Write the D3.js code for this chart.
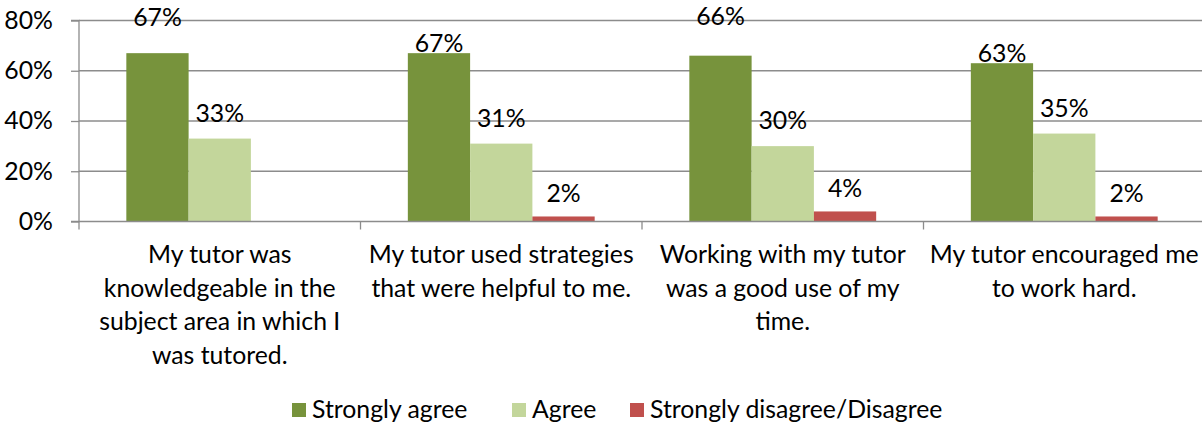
<!DOCTYPE html>
<html>
<head>
<meta charset="utf-8">
<script src="https://cdn.jsdelivr.net/npm/d3@7"></script>
<style>
  html, body { margin: 0; padding: 0; background: #fff; }
  svg { display: block; }
  text { font-family: "Lato", "Open Sans", sans-serif; fill: #000; }
</style>
</head>
<body>
<svg id="chart" width="1202" height="425"></svg>
<script>
// ---- data ----
const categories = [
  "My tutor was knowledgeable in the subject area in which I was tutored.",
  "My tutor used strategies that were helpful to me.",
  "Working with my tutor was a good use of my time.",
  "My tutor encouraged me to work hard."
];
const categoryLines = [
  ["My tutor was", "knowledgeable in the", "subject area in which I", "was tutored."],
  ["My tutor used strategies", "that were helpful to me."],
  ["Working with my tutor", "was a good use of my", "time."],
  ["My tutor encouraged me", "to work hard."]
];
const seriesNames = ["Strongly agree", "Agree", "Strongly disagree/Disagree"];
const stronglyAgree = [0.67, 0.67, 0.66, 0.63];
const agree = [0.33, 0.31, 0.30, 0.35];
const disagree = [null, 0.02, 0.04, 0.02];
const yTicks = [0, 0.2, 0.4, 0.6, 0.8];

// ---- style ----
const colors = ["#77933C", "#C3D69B", "#C0504D"];
const labelGap = [1, 17, 14];            // label baseline distance above bar top, per series
const labelLift = [[26, 0, 0], [0, 0, 0], [30, 0, 0], [0, 0, 0]]; // manual label nudges (category, series)
const fontSize = 24.8;

const seriesValues = [stronglyAgree, agree, disagree];
const svg = d3.select("#chart");

const x0 = d3.scaleBand().domain(d3.range(categories.length)).range([79, 1205]).padding(0);
const x1 = d3.scaleBand().domain(d3.range(seriesNames.length)).range([0, x0.bandwidth()])
  .paddingInner(0).paddingOuter(0.76);
const y = d3.scaleLinear().domain([0, 0.8]).range([221.5, 20.5]);

// gridlines
svg.append("g").selectAll("line").data(yTicks.slice(1)).join("line")
  .attr("x1", 79).attr("x2", 1202)
  .attr("y1", d => y(d)).attr("y2", d => y(d))
  .attr("stroke", "#8c8c8c").attr("stroke-width", 1.3);

// bars
const groups = svg.append("g").selectAll("g").data(categories).join("g")
  .attr("transform", (d, i) => `translate(${x0(i)},0)`);
groups.each(function(c, ci) {
  const g = d3.select(this);
  seriesValues.forEach((vals, si) => {
    const v = vals[ci];
    if (v == null) return;
    g.append("rect")
      .attr("x", x1(si)).attr("width", x1.bandwidth())
      .attr("y", y(v)).attr("height", y(0) - y(v))
      .attr("fill", colors[si]);
    g.append("text")
      .attr("x", x1(si) + x1.bandwidth() / 2)
      .attr("y", y(v) - labelGap[si] - labelLift[ci][si])
      .attr("text-anchor", "middle")
      .attr("font-size", fontSize)
      .text(d3.format(".0%")(v));
  });
});

// y axis
const yAxis = d3.axisLeft(y).tickValues(yTicks).tickFormat(d3.format(".0%")).tickSize(8).tickPadding(18);
const ya = svg.append("g").attr("transform", "translate(79,0)").call(yAxis);
ya.select(".domain").attr("stroke", "#8c8c8c").attr("stroke-width", 1.3).attr("d", `M-8,${y(0.8)}H0V${y(0)}H-8`);
ya.selectAll(".tick line").attr("stroke", "#8c8c8c").attr("stroke-width", 1.3);
ya.selectAll(".tick text").attr("font-size", fontSize).attr("font-family", "Lato, sans-serif").attr("fill", "#000");

// x axis
const xa = svg.append("g");
xa.append("line").attr("x1", 79).attr("x2", 1202).attr("y1", y(0)).attr("y2", y(0))
  .attr("stroke", "#8c8c8c").attr("stroke-width", 1.3);
const boundaries = d3.range(categories.length).map(i => x0(i));
xa.selectAll("line.tk").data(boundaries).join("line").attr("class", "tk")
  .attr("x1", d => d).attr("x2", d => d).attr("y1", y(0)).attr("y2", y(0) + 8)
  .attr("stroke", "#8c8c8c").attr("stroke-width", 1.3);

// category labels
categoryLines.forEach((lines, ci) => {
  const t = svg.append("text")
    .attr("x", x0(ci) + x0.bandwidth() / 2)
    .attr("y", 263)
    .attr("text-anchor", "middle")
    .attr("font-size", fontSize);
  lines.forEach((ln, li) => {
    t.append("tspan").attr("x", x0(ci) + x0.bandwidth() / 2).attr("dy", li === 0 ? 0 : 33.5).text(ln);
  });
});

// legend
const legendX = [292, 512, 630];
const lg = svg.append("g");
seriesNames.forEach((name, si) => {
  lg.append("rect").attr("x", legendX[si]).attr("y", 403).attr("width", 14).attr("height", 14).attr("fill", colors[si]);
  lg.append("text").attr("x", legendX[si] + 20).attr("y", 418).attr("font-size", fontSize).text(name);
});
</script>
</body>
</html>
